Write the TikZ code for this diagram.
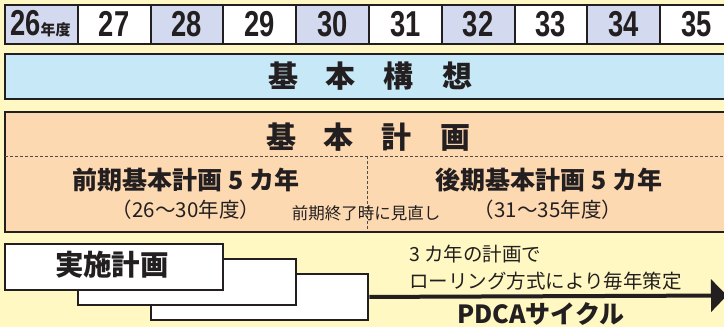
\documentclass[tikz,border=0pt]{standalone}
\usepackage{fontspec}
\usetikzlibrary{arrows.meta}
\newfontfamily\jp{Noto Sans CJK JP}
\newfontfamily\lat{Liberation Sans}
\definecolor{bgc}{HTML}{FFF8C2}
\definecolor{lav}{HTML}{D3D9EE}
\definecolor{skyc}{HTML}{C6E8F7}
\definecolor{peach}{HTML}{FDD9B2}
\definecolor{ink}{HTML}{231F20}
\begin{document}
\begin{tikzpicture}[x=1pt,y=-1pt,
  box/.style={draw=ink,line width=2pt,inner sep=0pt,anchor=north west},
  yearcell/.style={box,minimum width=72.8pt,minimum height=39pt},
  planbox/.style={draw=ink,line width=2.4pt,fill=white,inner sep=0pt,anchor=north west,minimum width=218pt,minimum height=45.5pt},
  bigtxt/.style={inner sep=0pt,text=ink,font=\jp\bfseries\fontsize{30}{30}\selectfont},
  midtxt/.style={inner sep=0pt,text=ink,font=\jp\bfseries\fontsize{25}{25}\selectfont},
  paren/.style={inner sep=0pt,text=ink,font=\jp\fontsize{20.5}{20.5}\selectfont},
  small/.style={inner sep=0pt,text=ink,font=\jp\fontsize{16.5}{16.5}\selectfont},
  note/.style={inner sep=0pt,text=ink,anchor=west,font=\jp\fontsize{19.5}{19.5}\selectfont},
  dashline/.style={draw=ink!80,line width=0.8pt,dash pattern=on 3pt off 2pt},
  yr/.style={font=\lat\bfseries\fontsize{36}{36}\selectfont,text=ink}]
\fill[bgc] (0,0) rectangle (724,327);
\useasboundingbox (0,0) rectangle (724,327);
% year row
\foreach \i in {0,...,9}{
  \pgfmathsetmacro{\xx}{4+72.8*\i}
  \pgfmathtruncatemacro{\ev}{mod(\i,2)}
  \ifnum\ev=0 \def\cc{lav}\else\def\cc{white}\fi
  \node[yearcell,fill=\cc] (y\i) at (\xx,4) {};
}
\foreach \i/\lab in {1/27,2/28,3/29,4/30,5/31,6/32,7/33,8/34,9/35}{
  \node[yr,inner sep=0pt] at ([yshift=0.5pt]y\i.center) {\scalebox{0.76}[1]{\lab}};
}
\node[inner sep=0pt,text=ink,anchor=west] (y0t) at ([xshift=6pt,yshift=0.5pt]y0.west)
  {{\lat\bfseries\fontsize{36}{36}\selectfont\scalebox{0.76}[1]{26}}{\jp\bfseries\fontsize{15}{15}\selectfont 年度}};
% kihon kousou
\node[box,fill=skyc,minimum width=740pt,minimum height=45pt] (kousou) at (4,53) {};
\node[bigtxt] (kousoutxt) at (370,76) {基\hspace{28pt}本\hspace{28pt}構\hspace{28pt}想};
% kihon keikaku
\node[box,fill=peach,minimum width=740pt,minimum height=120pt] (keikaku) at (4,111) {};
\node[bigtxt] (keikakutxt) at (368,137) {基\hspace{28pt}本\hspace{28pt}計\hspace{28pt}画};
\coordinate (dl) at (5,156);
\coordinate (dr) at (724,156);
\coordinate (dv) at (367,156);
\coordinate (dvb) at (367,230);
\draw[dashline] (dl) -- (dr);
\draw[dashline] (dv) -- (dvb);
\node[midtxt] (zenki) at (186,180) {前期基本計画 5 カ年};
\node[midtxt] (kouki) at (549,180) {後期基本計画 5 カ年};
\node[paren] (zenkiy) at (186,210) {（26〜30年度）};
\node[paren] (koukiy) at (548,210) {（31〜35年度）};
\node[small] (minaoshi) at (366,213) {前期終了時に見直し};
% jisshi keikaku boxes
\node[planbox,minimum width=217pt] (b3) at (150,273) {};
\node[planbox] (b2) at (77,258) {};
\node[planbox] (b1) at (4,243) {};
\node[inner sep=0pt,text=ink,font=\jp\bfseries\fontsize{28.5}{28.5}\selectfont] (jisshi) at (112,265) {実施計画};
% arrow
\coordinate (tip) at (727,295.5);
\draw[ink,line width=4pt,-{Triangle[length=16pt,width=32pt]}] (b3.east) -- (tip);
\node[note] (n1) at (409,254) {3 カ年の計画で};
\node[note] (n2) at (409,281) {ローリング方式により毎年策定};
\node[inner sep=0pt,text=ink,font=\jp\bfseries\fontsize{25}{25}\selectfont] (pdca) at (541,314) {PDCAサイクル};
\end{tikzpicture}
\end{document}
